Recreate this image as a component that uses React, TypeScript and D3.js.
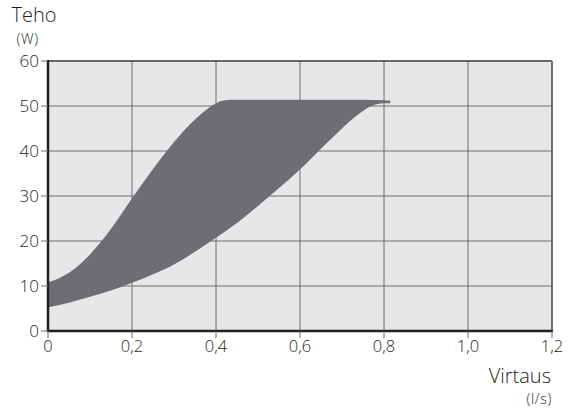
import React from 'react';
import * as d3 from 'd3';

// flow (l/s) and power band (W)
const flowUpper = [0, 0.03, 0.06, 0.1, 0.15, 0.2, 0.25, 0.3, 0.35, 0.38, 0.4, 0.42, 0.45, 0.5, 0.6, 0.7, 0.8, 0.815];
const powerUpper = [10.8, 11.9, 13.6, 17.0, 22.7, 29.5, 36.0, 42.0, 47.0, 49.4, 50.6, 51.3, 51.4, 51.4, 51.4, 51.4, 51.3, 51.2];
const flowLower = [0, 0.05, 0.1, 0.15, 0.2, 0.25, 0.3, 0.35, 0.4, 0.45, 0.5, 0.55, 0.6, 0.65, 0.7, 0.74, 0.77, 0.8, 0.815];
const powerLower = [5.3, 6.3, 7.6, 9.0, 10.7, 12.6, 14.8, 17.6, 20.7, 24.0, 27.8, 31.8, 35.9, 40.5, 45.0, 48.2, 50.0, 50.6, 50.6];

const xTicks = [0, 0.2, 0.4, 0.6, 0.8, 1.0, 1.2];
const yTicks = [0, 10, 20, 30, 40, 50, 60];

const W = 574;
const H = 410;
const left = 48;
const right = 552;
const top = 61;
const bottom = 331;
const font = "'Open Sans', sans-serif";
const ink = '#231f20';

export default function App() {
  const x = d3.scaleLinear().domain([0, 1.2]).range([left, right]);
  const y = d3.scaleLinear().domain([0, 60]).range([bottom, top]);

  const upper = flowUpper.map((f, i) => [f, powerUpper[i]] as [number, number]);
  const lower = flowLower.map((f, i) => [f, powerLower[i]] as [number, number]);
  const line = d3.line<[number, number]>()
    .x((d) => x(d[0]))
    .y((d) => y(d[1]))
    .curve(d3.curveMonotoneX);
  const upperPath = line(upper) || '';
  const lowerRev = line(lower.slice().reverse()) || '';
  // band = upper left->right, then lower right->left
  const band = `${upperPath}L${lowerRev.slice(1)}Z`;

  const fmt = (v: number) => (v === 0 ? '0' : v.toFixed(1).replace('.', ','));

  return (
    <svg width={W} height={H} style={{ position: 'absolute', left: 0, top: 0 }} fontWeight={300}>
      <rect x={left} y={top} width={right - left} height={bottom - top} fill="#e6e7e8" />
      <path d={band} fill="#6d6e71" />
      {xTicks.slice(1, -1).map((t) => (
        <line key={`gx${t}`} x1={x(t)} x2={x(t)} y1={top} y2={bottom} stroke="#6d6e71" strokeWidth={1} />
      ))}
      {yTicks.slice(1, -1).map((t) => (
        <line key={`gy${t}`} x1={left} x2={right} y1={y(t)} y2={y(t)} stroke="#6d6e71" strokeWidth={1} />
      ))}
      <line x1={left} x2={right} y1={top} y2={top} stroke="#3a3a3c" strokeWidth={1.5} />
      <line x1={right} x2={right} y1={top} y2={bottom} stroke="#6d6e71" strokeWidth={2} />
      <line x1={left} x2={left} y1={top - 1} y2={bottom + 1} stroke={ink} strokeWidth={2.5} />
      <line x1={left - 1} x2={right + 1} y1={bottom} y2={bottom} stroke={ink} strokeWidth={2.5} />
      {yTicks.map((t) => (
        <g key={`yt${t}`}>
          <line x1={left - 7} x2={left} y1={y(t)} y2={y(t)} stroke="#6d6e71" strokeWidth={1} />
          <text x={left - 9} y={y(t) + 5.8} textAnchor="end" fontFamily={font} fontSize={17} fill={ink}>{t}</text>
        </g>
      ))}
      {xTicks.map((t) => (
        <g key={`xt${t}`}>
          <line x1={x(t)} x2={x(t)} y1={bottom} y2={bottom + 7} stroke="#6d6e71" strokeWidth={1} />
          <text x={x(t)} y={bottom + 20.7} textAnchor="middle" fontFamily={font} fontSize={16.5} fill={ink}>{fmt(t)}</text>
        </g>
      ))}
      <text x={11.5} y={21.5} fontFamily={font} fontSize={20} fill={ink}>Teho</text>
      <text x={16.5} y={43.5} fontFamily={font} fontSize={14} letterSpacing={0.7} fill={ink}>(W)</text>
      <text x={551} y={383} textAnchor="end" fontFamily={font} fontSize={20} fill={ink}>Virtaus</text>
      <text x={552} y={403.5} textAnchor="end" fontFamily={font} fontSize={14} letterSpacing={0.7} fill={ink}>(l/s)</text>
    </svg>
  );
}
